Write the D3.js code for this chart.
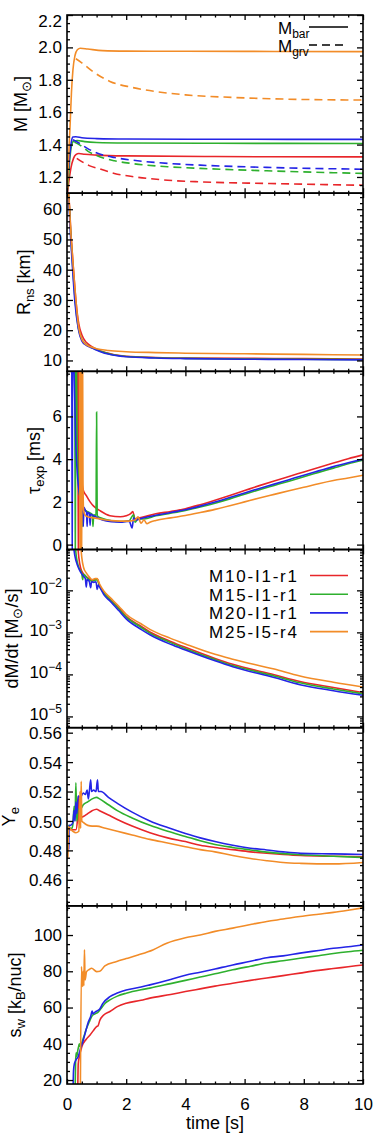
<!DOCTYPE html>
<html>
<head>
<meta charset="utf-8">
<script src="https://cdn.jsdelivr.net/npm/d3@7"></script>
<style>
  body { margin: 0; background: #fff; }
  text { font-family: "Liberation Sans", Arial, sans-serif; fill: #000; }
</style>
</head>
<body>
<div id="chart"></div>
<script>
const width = 382,
  height = 1146,
  plotLeft = 67,
  plotRight = 363,
  plotTop = 15,
  panelH = 178.17;

const models = ["M10-I1-r1", "M15-I1-r1", "M20-I1-r1", "M25-I5-r4"];
const modelColors = ["#e8262a", "#2eb02e", "#2424e6", "#f28c28"];
const timeTicks = [0, 2, 4, 6, 8, 10];

// baryonic / gravitational mass [Msun] -- [time, value]
const mBarM10 = [[0,1.08],[0.07,1.18],[0.14,1.262],[0.22,1.315],[0.3,1.338],[0.4,1.345],[0.6,1.34],[1,1.335],[2,1.33],[5,1.326],[10,1.324]];
const mBarM15 = [[0,1.1],[0.05,1.2],[0.1,1.32],[0.15,1.39],[0.22,1.42],[0.35,1.425],[0.6,1.418],[1,1.413],[2,1.41],[5,1.408],[10,1.407]];
const mBarM20 = [[0,1.17],[0.05,1.25],[0.1,1.35],[0.15,1.42],[0.2,1.447],[0.3,1.448],[0.5,1.442],[1,1.437],[2,1.434],[5,1.433],[10,1.432]];
const mBarM25 = [[0,1.08],[0.05,1.3],[0.1,1.5],[0.15,1.72],[0.2,1.86],[0.27,1.95],[0.35,1.985],[0.45,1.995],[0.7,1.99],[1.2,1.98],[2,1.977],[4,1.976],[7,1.975],[10,1.974]];
const mGrvM10 = [[0.33,1.315],[0.5,1.295],[0.75,1.27],[1.1,1.25],[1.6,1.222],[2.2,1.203],[3.4,1.18],[4.5,1.17],[6.75,1.16],[10,1.149]];
const mGrvM15 = [[0.25,1.415],[0.45,1.395],[0.7,1.36],[1.1,1.325],[1.6,1.3],[2.2,1.283],[3.4,1.263],[4.5,1.253],[6.75,1.238],[10,1.222]];
const mGrvM20 = [[0.2,1.43],[0.4,1.41],[0.7,1.375],[1.1,1.342],[1.6,1.32],[2.2,1.304],[3.4,1.284],[4.5,1.273],[6.75,1.259],[10,1.248]];
const mGrvM25 = [[0.3,1.93],[0.5,1.905],[0.88,1.85],[1.45,1.79],[2.2,1.753],[3,1.727],[4,1.707],[5.6,1.691],[7.3,1.681],[10,1.675]];

// neutron star radius [km]
const rnsM10 = [[0,66],[0.06,64],[0.14,51],[0.22,40],[0.3,30],[0.4,22],[0.5,18.5],[0.65,16],[0.8,14.8],[1,13.7],[1.3,12.6],[1.6,11.9],[2,11.4],[3,11],[4,10.8],[6,10.7],[8,10.6],[10,10.5]];
const rnsM15 = [[0,66],[0.05,64.5],[0.13,51],[0.2,40],[0.28,29.5],[0.38,21],[0.5,17],[0.65,15.2],[0.8,14.4],[1,13.5],[1.3,12.5],[1.6,11.8],[2,11.3],[3,10.9],[4,10.7],[6,10.5],[8,10.4],[10,10.3]];
const rnsM20 = [[0,66],[0.04,65],[0.12,51],[0.19,40],[0.27,29],[0.38,20.5],[0.5,16.5],[0.65,15],[0.8,14.3],[0.95,13.6],[1.2,12.6],[1.6,11.7],[2,11.2],[3,10.8],[4,10.6],[6,10.4],[8,10.3],[10,10.2]];
const rnsM25 = [[0,66],[0.05,65],[0.13,52],[0.21,41],[0.29,31],[0.38,22],[0.5,17],[0.65,15.2],[0.8,14.5],[1,13.9],[1.4,13.3],[2,12.9],[3,12.6],[4,12.4],[6,12.2],[8,12],[10,11.8]];

// expansion timescale [ms]
const tauM10 = [[0.36,12],[0.385,-3],[0.41,12],[0.45,5],[0.5,3.0],[0.55,2.55],[0.65,2.3],[0.78,2.0],[0.9,1.8],[1.1,1.6],[1.45,1.35],[1.8,1.3],[2.0,1.35],[2.15,1.45],[2.22,1.55],[2.3,1.2],[2.45,1.25],[2.6,1.3],[3,1.44],[3.5,1.55],[4,1.68],[4.5,1.87],[5,2.08],[5.5,2.3],[6,2.53],[6.5,2.76],[7,2.98],[7.5,3.19],[8,3.4],[8.5,3.61],[9,3.82],[9.5,4.02],[10,4.2]];
const tauM15 = [[0.26,12],[0.28,-3],[0.3,12],[0.34,5],[0.4,2.7],[0.46,2.0],[0.5,1.75],[0.53,0.85],[0.56,1.7],[0.62,1.6],[0.68,1.55],[0.75,1.5],[0.85,1.42],[0.88,0.85],[0.9,1.4],[0.98,1.38],[1.0,6.2],[1.02,1.35],[1.2,1.22],[1.5,1.12],[1.8,1.08],[2.1,1.12],[2.25,1.4],[2.3,1.05],[2.4,1.2],[2.6,1.2],[3,1.35],[3.5,1.47],[4,1.6],[4.5,1.76],[5,1.94],[5.5,2.14],[6,2.36],[6.5,2.57],[7,2.77],[7.5,2.97],[8,3.18],[8.5,3.38],[9,3.58],[9.5,3.78],[10,3.95]];
const tauM20 = [[0.16,12],[0.175,-3],[0.19,12],[0.24,8],[0.3,4.6],[0.36,3.1],[0.42,2.4],[0.5,2.0],[0.53,1.8],[0.55,0.85],[0.57,1.75],[0.62,1.6],[0.66,1.5],[0.68,0.85],[0.7,1.5],[0.76,1.45],[0.78,0.9],[0.8,1.42],[0.9,1.35],[1.0,1.28],[1.2,1.15],[1.5,1.07],[1.8,1.05],[2.1,1.1],[2.2,0.78],[2.25,1.25],[2.3,1.15],[2.5,1.22],[3,1.37],[3.5,1.5],[4,1.63],[4.5,1.8],[5,1.99],[5.5,2.2],[6,2.42],[6.5,2.63],[7,2.83],[7.5,3.04],[8,3.25],[8.5,3.45],[9,3.65],[9.5,3.83],[10,4.0]];
const tauM25 = [[0.42,12],[0.44,-3],[0.47,12],[0.49,-3],[0.52,12],[0.54,3],[0.56,1.6],[0.6,1.4],[0.7,1.3],[0.9,1.25],[1.2,1.18],[1.5,1.12],[1.8,1.1],[2.1,1.1],[2.3,1.15],[2.4,1.3],[2.5,1.0],[2.6,1.15],[2.7,0.98],[2.8,1.05],[3,1.13],[3.5,1.25],[4,1.36],[4.5,1.5],[5,1.65],[5.5,1.82],[6,2.0],[6.5,2.18],[7,2.35],[7.5,2.52],[8,2.68],[8.5,2.85],[9,3.0],[9.5,3.12],[10,3.25]];

// mass outflow rate [Msun/s]
const mdotM10 = [[0.34,0.2],[0.4,0.06],[0.46,0.034],[0.55,0.025],[0.7,0.02],[0.85,0.017],[0.95,0.0185],[1.02,0.0185],[1.1,0.013],[1.25,0.0088],[1.45,0.0062],[1.75,0.0038],[2,0.0024],[2.5,0.0014],[2.8,0.00102],[3.5,0.00061],[4,0.00044],[5,0.00024],[5.6,0.000174],[7,9.8e-5],[7.87,6.8e-5],[9,4.9e-5],[10,3.7e-5]];
const mdotM15 = [[0.25,0.2],[0.32,0.06],[0.4,0.035],[0.5,0.025],[0.53,0.018],[0.56,0.024],[0.7,0.019],[0.85,0.0165],[0.95,0.0175],[1.02,0.018],[1.1,0.0125],[1.25,0.0085],[1.45,0.006],[1.75,0.0036],[2,0.0023],[2.5,0.00132],[2.8,0.00096],[3.5,0.00057],[4,0.00041],[5,0.000225],[5.6,0.000162],[7,9.2e-5],[7.87,6.3e-5],[9,4.5e-5],[10,3.45e-5]];
const mdotM20 = [[0.18,0.2],[0.26,0.07],[0.35,0.04],[0.45,0.028],[0.55,0.022],[0.62,0.019],[0.65,0.012],[0.68,0.018],[0.75,0.0165],[0.8,0.0115],[0.83,0.016],[0.9,0.0155],[0.98,0.016],[1.02,0.0105],[1.06,0.0135],[1.12,0.0115],[1.25,0.0078],[1.45,0.0056],[1.75,0.0033],[2,0.0021],[2.5,0.00118],[2.8,0.00088],[3.5,0.00052],[4,0.00038],[5,0.00021],[5.6,0.000152],[7,8.4e-5],[7.87,5.7e-5],[9,4.1e-5],[10,3.2e-5]];
const mdotM25 = [[0.44,0.2],[0.5,0.06],[0.56,0.035],[0.65,0.026],[0.75,0.021],[0.85,0.018],[0.95,0.019],[1.02,0.019],[1.1,0.014],[1.25,0.0095],[1.45,0.0068],[1.75,0.0042],[2,0.0027],[2.5,0.0016],[2.8,0.00118],[3.5,0.00072],[4,0.00053],[5,0.0003],[5.6,0.00023],[7,0.000134],[7.87,9.2e-5],[9,6.5e-5],[10,5e-5]];

// electron fraction
const yeM10 = [[0.1,0.494],[0.2,0.494],[0.3,0.494],[0.35,0.5],[0.38,0.517],[0.41,0.498],[0.45,0.502],[0.55,0.503],[0.7,0.505],[0.85,0.507],[1.0,0.508],[1.1,0.507],[1.4,0.504],[1.7,0.501],[2.2,0.4965],[2.8,0.492],[3.4,0.4885],[4,0.486],[4.5,0.4835],[5,0.482],[5.6,0.4805],[6.2,0.479],[6.75,0.478],[7.3,0.4772],[7.9,0.4765],[9,0.476],[10,0.4757]];
const yeM15 = [[0,0.474],[0.04,0.497],[0.1,0.495],[0.17,0.495],[0.2,0.498],[0.24,0.51],[0.27,0.5],[0.3,0.526],[0.33,0.5],[0.38,0.508],[0.45,0.508],[0.55,0.511],[0.7,0.513],[0.85,0.515],[1.0,0.516],[1.1,0.515],[1.4,0.511],[1.7,0.507],[2.2,0.502],[2.8,0.497],[3.4,0.493],[4,0.4895],[4.5,0.4865],[5,0.484],[5.6,0.482],[6.2,0.4803],[6.75,0.4788],[7.3,0.4778],[7.9,0.477],[9,0.476],[10,0.4752]];
const yeM20 = [[0,0.48],[0.06,0.481],[0.07,0.497],[0.12,0.497],[0.2,0.499],[0.24,0.507],[0.27,0.5],[0.3,0.513],[0.33,0.505],[0.38,0.517],[0.45,0.516],[0.55,0.519],[0.62,0.518],[0.68,0.521],[0.72,0.515],[0.76,0.521],[0.8,0.528],[0.83,0.52],[0.9,0.521],[0.98,0.52],[1.03,0.528],[1.06,0.52],[1.15,0.52],[1.4,0.516],[1.7,0.512],[2.2,0.506],[2.8,0.5],[3.4,0.4955],[4,0.4915],[4.5,0.4885],[5,0.486],[5.6,0.4835],[6.2,0.4815],[6.75,0.4803],[7.3,0.479],[7.9,0.478],[9,0.4776],[10,0.4772]];
const yeM25 = [[0,0.474],[0.03,0.476],[0.05,0.496],[0.1,0.495],[0.2,0.493],[0.3,0.492],[0.4,0.493],[0.44,0.52],[0.46,0.495],[0.48,0.527],[0.5,0.5],[0.55,0.499],[0.7,0.497],[0.85,0.4965],[1.0,0.4965],[1.3,0.495],[1.7,0.493],[2.2,0.4905],[2.8,0.4875],[3.4,0.485],[4,0.4825],[4.5,0.4805],[5,0.479],[5.6,0.4765],[6.2,0.4745],[6.75,0.473],[7.3,0.4718],[7.9,0.4712],[9,0.4708],[10,0.4718]];

// wind entropy [kB/nuc]
const swM10 = [[0.36,10],[0.38,29],[0.42,33],[0.5,38.4],[0.65,42.5],[0.78,44.9],[0.9,47.5],[1.0,49.5],[1.05,50],[1.11,53],[1.25,56],[1.45,57.8],[1.7,60.5],[2,62.4],[2.5,64],[2.8,65.2],[3.5,67.2],[4,68.8],[4.5,70.3],[5,71.8],[5.6,73.4],[6.2,75],[6.75,76.3],[7.3,77.6],[7.87,79],[8.5,80.5],[9,81.5],[9.5,82.5],[10,83.5]];
const swM15 = [[0.27,10],[0.29,30],[0.31,35],[0.33,33],[0.36,36],[0.4,39],[0.42,40],[0.44,38.5],[0.55,43],[0.65,48],[0.75,52],[0.85,55.5],[0.95,56.5],[1.05,57.5],[1.15,59.5],[1.3,62.5],[1.45,64.2],[1.7,66.3],[2,67.9],[2.5,69.8],[2.8,70.7],[3.5,73.2],[4,75],[4.5,76.8],[5,78.6],[5.6,80.8],[6.2,82.8],[6.75,84.6],[7.3,85.8],[7.87,87.2],[8.5,88.6],[9,89.8],[9.5,90.8],[10,91.6]];
const swM20 = [[0.2,10],[0.22,25],[0.25,29],[0.3,31],[0.38,33],[0.45,37],[0.55,42],[0.65,48],[0.72,52],[0.8,55],[0.85,58],[0.88,56.5],[0.95,57.5],[1.1,59],[1.2,62],[1.45,66],[1.7,68],[2,69.7],[2.5,71.3],[2.8,72.5],[3.5,75.5],[4,77.8],[4.5,79.5],[5,81.3],[5.6,83.5],[6.2,85.5],[6.75,87.5],[7.3,88.5],[7.87,90],[8.5,91.5],[9,92.7],[9.5,93.5],[10,94.5]];
const swM25 = [[0.45,10],[0.49,82.6],[0.52,71.6],[0.55,80],[0.57,72],[0.59,91.8],[0.61,75.2],[0.66,79.8],[0.75,81],[0.83,81.7],[1.0,79.8],[1.11,80],[1.28,83],[1.68,85.4],[2,87],[2.4,89],[2.9,91.8],[3.37,95.5],[4,98.5],[4.5,100],[5,102],[5.6,103.8],[6.2,105.8],[6.75,107.5],[7.3,108.8],[7.87,110.2],[8.5,111.5],[9,112.5],[9.5,113.7],[10,115]];

const panels = [
  {
    domain: [1.1, 2.2], ticks: [1.2, 1.4, 1.6, 1.8, 2.0, 2.2], minor: 0.05, fmt: d3.format(".1f"),
    title: [["M", 0], ["  [M", 0], ["\u2299", 1], ["]", 0]], titleX: 27,
    solid: [mBarM10, mBarM15, mBarM20, mBarM25],
    dashed: [mGrvM10, mGrvM15, mGrvM20, mGrvM25],
  },
  {
    domain: [6.4, 65.3], ticks: [10, 20, 30, 40, 50, 60], minor: 2, fmt: d3.format("d"),
    title: [["R", 0], ["ns", 1], ["  [km]", 0]], titleX: 30,
    solid: [rnsM10, rnsM15, rnsM20, rnsM25],
  },
  {
    domain: [-0.23, 8.11], ticks: [0, 2, 4, 6], minor: 0.5, fmt: d3.format("d"),
    title: [["\u03c4", 0], ["exp", 1], ["  [ms]", 0]], titleX: 40,
    solid: [tauM10, tauM15, tauM20, tauM25],
  },
  {
    log: true, domain: [5.4e-6, 0.0937], ticks: [1e-2, 1e-3, 1e-4, 1e-5],
    title: [["dM/dt  [M", 0], ["\u2299", 1], ["/s]", 0]], titleX: 18,
    solid: [mdotM10, mdotM15, mdotM20, mdotM25],
  },
  {
    domain: [0.4423, 0.5634], ticks: [0.46, 0.48, 0.50, 0.52, 0.54, 0.56], minor: 0.005, fmt: d3.format(".2f"),
    title: [["Y", 0], ["e", 1]], titleX: 15,
    solid: [yeM10, yeM15, yeM20, yeM25],
  },
  {
    domain: [17.8, 116.1], ticks: [20, 40, 60, 80, 100], minor: 5, fmt: d3.format("d"),
    title: [["s", 0], ["w", 1], ["  [k", 0], ["B", 1], ["/nuc]", 0]], titleX: 21,
    solid: [swM10, swM15, swM20, swM25],
  },
];

const svg = d3
  .select("#chart")
  .append("svg")
  .attr("width", width)
  .attr("height", height);

svg.append("rect").attr("width", width).attr("height", height).attr("fill", "#fff");

const xScale = d3.scaleLinear().domain([0, 10]).range([plotLeft, plotRight]);
const xMinor = d3.range(0, 10.001, 0.5).filter((d) => d % 2 !== 0);

// text with sub-scripted pieces
const richText = (sel, parts, baseSize, subSize) => {
  let shifted = false;
  parts.forEach(([str, sub]) => {
    const t = sel.append("tspan").text(str);
    if (sub && !shifted) {
      t.attr("dy", 4).attr("font-size", subSize);
      shifted = true;
    } else if (!sub && shifted) {
      t.attr("dy", -4).attr("font-size", baseSize);
      shifted = false;
    } else {
      t.attr("font-size", sub ? subSize : baseSize);
    }
  });
};

const styleAxis = (g) => {
  g.select(".domain").remove();
  g.selectAll("line").attr("stroke", "#000").attr("stroke-width", 1.3);
  g.selectAll("text").attr("font-size", 17).attr("font-family", "Liberation Sans, Arial, sans-serif");
};

panels.forEach((p, i) => {
  const y0 = plotTop + i * panelH,
    y1 = y0 + panelH;
  const yScale = (p.log ? d3.scaleLog() : d3.scaleLinear()).domain(p.domain).range([y1, y0]);

  const clipId = "clip" + i;
  svg.append("clipPath").attr("id", clipId)
    .append("rect").attr("x", plotLeft).attr("y", y0).attr("width", plotRight - plotLeft).attr("height", panelH);

  const line = d3.line()
    .x((d) => xScale(d[0]))
    .y((d) => yScale(d[1]))
    .curve(d3.curveMonotoneX);

  const dataG = svg.append("g").attr("clip-path", "url(#" + clipId + ")");
  p.solid.forEach((s, k) => {
    dataG.append("path").datum(s).attr("d", line)
      .attr("fill", "none").attr("stroke", modelColors[k]).attr("stroke-width", 1.6);
  });
  if (p.dashed) {
    p.dashed.forEach((s, k) => {
      dataG.append("path").datum(s).attr("d", line)
        .attr("fill", "none").attr("stroke", modelColors[k]).attr("stroke-width", 1.6)
        .attr("stroke-dasharray", "8,5");
    });
  }

  // minor ticks
  let minorTicks;
  if (p.log) {
    minorTicks = [];
    for (let e = -6; e <= -1; e++) {
      for (let m = 2; m <= 9; m++) {
        const v = m * Math.pow(10, e);
        if (v >= p.domain[0] && v <= p.domain[1]) minorTicks.push(v);
      }
    }
  } else {
    minorTicks = d3.range(Math.ceil(p.domain[0] / p.minor) * p.minor, p.domain[1], p.minor)
      .filter((v) => !p.ticks.some((t) => Math.abs(t - v) < 1e-9));
  }

  const leftAxis = d3.axisLeft(yScale).tickValues(p.ticks).tickSize(-6).tickPadding(5)
    .tickFormat(p.log ? () => "10" : p.fmt);
  const leftG = svg.append("g").attr("transform", "translate(" + plotLeft + ",0)").call(leftAxis).call(styleAxis);
  if (p.log) {
    leftG.selectAll(".tick text").attr("dy", "0.2em").each(function (d) {
      d3.select(this).append("tspan").attr("dy", -7).attr("font-size", 12)
        .text("\u2212" + Math.round(-Math.log10(d)));
    });
  }
  if (i === 0) {
    // top label sits a little below its tick, as in the original figure
    leftG.selectAll(".tick text").filter((d) => d === 2.2).attr("dy", "0.7em");
  }
  if (i === 4) {
    leftG.selectAll(".tick text").attr("dy", "0.36em");
  }
  svg.append("g").attr("transform", "translate(" + plotLeft + ",0)")
    .call(d3.axisLeft(yScale).tickValues(minorTicks).tickSize(-3).tickFormat(""))
    .call(styleAxis);
  svg.append("g").attr("transform", "translate(" + plotRight + ",0)")
    .call(d3.axisRight(yScale).tickValues(p.ticks).tickSize(-6).tickFormat(""))
    .call(styleAxis);
  svg.append("g").attr("transform", "translate(" + plotRight + ",0)")
    .call(d3.axisRight(yScale).tickValues(minorTicks).tickSize(-3).tickFormat(""))
    .call(styleAxis);

  // time axes on top and bottom of every panel
  const isLast = i === panels.length - 1;
  svg.append("g").attr("transform", "translate(0," + y1 + ")")
    .call(d3.axisBottom(xScale).tickValues(timeTicks).tickSize(-5).tickPadding(14)
      .tickFormat(isLast ? d3.format("d") : ""))
    .call(styleAxis);
  svg.append("g").attr("transform", "translate(0," + y1 + ")")
    .call(d3.axisBottom(xScale).tickValues(xMinor).tickSize(-2.5).tickFormat(""))
    .call(styleAxis);
  svg.append("g").attr("transform", "translate(0," + y0 + ")")
    .call(d3.axisTop(xScale).tickValues(timeTicks).tickSize(-5).tickFormat(""))
    .call(styleAxis);
  svg.append("g").attr("transform", "translate(0," + y0 + ")")
    .call(d3.axisTop(xScale).tickValues(xMinor).tickSize(-2.5).tickFormat(""))
    .call(styleAxis);

  svg.append("rect")
    .attr("x", plotLeft).attr("y", y0)
    .attr("width", plotRight - plotLeft).attr("height", panelH)
    .attr("fill", "none").attr("stroke", "#000").attr("stroke-width", 1.6);

  const title = svg.append("text")
    .attr("transform", "translate(" + p.titleX + "," + (y0 + panelH / 2) + ") rotate(-90)")
    .attr("text-anchor", "middle")
    .attr("font-size", 18);
  richText(title, p.title, 18, 13);
});

// mass legend (panel 1)
const massLegend = [["bar", null], ["grv", "8,5"]];
massLegend.forEach(([sub, dash], k) => {
  const ly = 27 + k * 18;
  const t = svg.append("text").attr("x", 278).attr("y", ly + 6.5).attr("font-size", 17);
  t.append("tspan").text("M");
  t.append("tspan").attr("dy", 4).attr("font-size", 12).text(sub);
  svg.append("line").attr("x1", 309).attr("x2", 348).attr("y1", ly).attr("y2", ly)
    .attr("stroke", "#000").attr("stroke-width", 1.5).attr("stroke-dasharray", dash);
});

// model legend (panel 4)
const legendTop = plotTop + 3 * panelH + 26;
models.forEach((name, k) => {
  const ly = legendTop + k * 18.7;
  svg.append("text").attr("x", 297).attr("y", ly + 6.5)
    .attr("text-anchor", "end").attr("font-size", 17)
    .attr("textLength", 88).attr("lengthAdjust", "spacing")
    .text(name);
  svg.append("line").attr("x1", 310).attr("x2", 348).attr("y1", ly).attr("y2", ly)
    .attr("stroke", modelColors[k]).attr("stroke-width", 1.6);
});

// x-axis title
svg.append("text")
  .attr("x", (plotLeft + plotRight) / 2)
  .attr("y", 1129)
  .attr("text-anchor", "middle")
  .attr("font-size", 18)
  .text("time  [s]");
</script>
</body>
</html>
